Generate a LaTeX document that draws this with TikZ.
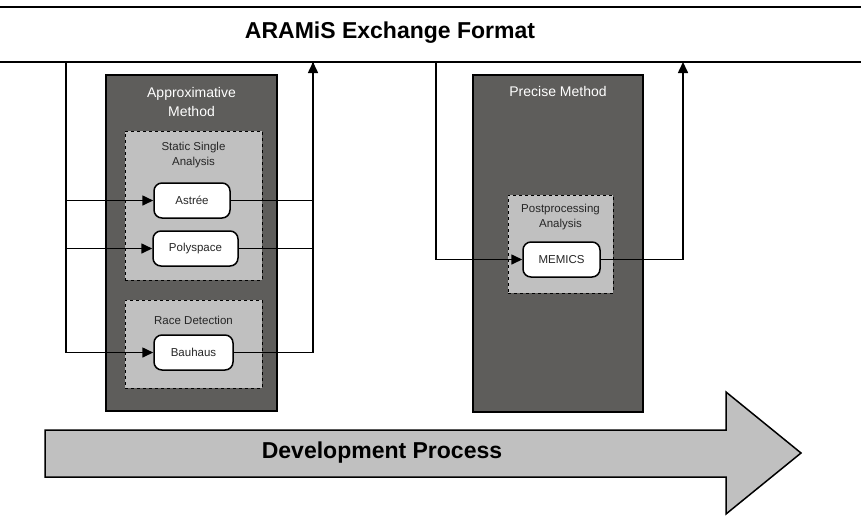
\documentclass[tikz,border=0pt]{standalone}
\usepackage{fontspec}
\setmainfont{Liberation Sans}
\usepackage{xcolor}
\definecolor{gdark}{HTML}{5E5D5B}
\definecolor{glight}{HTML}{C0C0C0}
\usetikzlibrary{arrows.meta, positioning, calc}

\begin{document}
\begin{tikzpicture}[x=1pt, y=-1pt, >={Triangle[length=11pt, width=10pt]},
  method/.style={draw=black, line width=1.5pt, fill=gdark, inner sep=0pt},
  group/.style={draw=black, dashed, line width=0.9pt, fill=glight, inner sep=0pt},
  tool/.style={draw=black, line width=1.5pt, fill=white, rounded corners=8pt, minimum height=35pt, text=black!85, font=\fontsize{11.5}{13}\selectfont},
  methodlabel/.style={text=white, align=center, font=\fontsize{14}{19}\selectfont},
  grouplabel/.style={text=black!85, align=center, font=\fontsize{11.5}{15}\selectfont},
  biglabel/.style={font=\fontsize{23}{26}\selectfont\bfseries},
  flow/.style={line width=1.6pt}]

  \useasboundingbox (0,0) rectangle (861,515);

  % Exchange format bus
  \draw[line width=1.8pt] (0,7) -- (861,7);
  \draw[line width=1.8pt] (0,62) -- (861,62);
  \node[biglabel] (aef) at (390,33) {ARAMiS Exchange Format};

  % Method boxes
  \node[method, minimum width=171pt, minimum height=336pt] (approx) at (191.5,243) {};
  \node[method, minimum width=170pt, minimum height=337pt] (precise) at (558,243.5) {};
  \node[methodlabel] (approxlabel) at (191.5,101.5) {Approximative\\Method};
  \node[methodlabel] (preciselabel) at (558,91) {Precise Method};

  % Analysis groups
  \node[group, minimum width=137pt, minimum height=149pt] (ssa) at (193.5,205.5) {};
  \node[group, minimum width=137pt, minimum height=88pt] (race) at (193.5,344) {};
  \node[group, minimum width=105pt, minimum height=98pt] (post) at (560.5,244) {};
  \node[grouplabel] (ssalabel) at (193.5,155.5) {Static Single\\Analysis};
  \node[grouplabel] (racelabel) at (193.5,320) {Race Detection};
  \node[grouplabel] (postlabel) at (560.5,217.5) {Postprocessing\\Analysis};

  % Tools
  \node[tool, minimum width=76pt] (astree) at (192,200.5) {Astrée};
  \node[tool, minimum width=85pt] (polyspace) at (195.5,248.5) {Polyspace};
  \node[tool, minimum width=79pt] (bauhaus) at (193.5,352.5) {Bauhaus};
  \node[tool, minimum width=77pt] (memics) at (561.5,259.5) {MEMICS};

  % Inputs from and results back to the bus
  \coordinate (inA) at (66,62);
  \coordinate (outA) at (313,62);
  \coordinate (inP) at (436,62);
  \coordinate (outP) at (683,62);

  \draw[->, flow] (inA) |- (astree);
  \draw[->, flow] (inA) |- (polyspace);
  \draw[->, flow] (inA) |- (bauhaus);
  \draw[flow] (astree) -| (outA);
  \draw[flow] (polyspace) -| (outA);
  \draw[->, flow] (bauhaus) -| (outA);

  \draw[->, flow] (inP) |- (memics);
  \draw[->, flow] (memics) -| (outP);

  % Development process arrow
  \draw[line width=1.5pt, fill=glight] (45,430) -- (726,430) -- (726,392) -- (801,453)
    -- (726,514) -- (726,477) -- (45,477) -- cycle;
  \node[biglabel] (devproc) at (382,453) {Development Process};

\end{tikzpicture}
\end{document}
